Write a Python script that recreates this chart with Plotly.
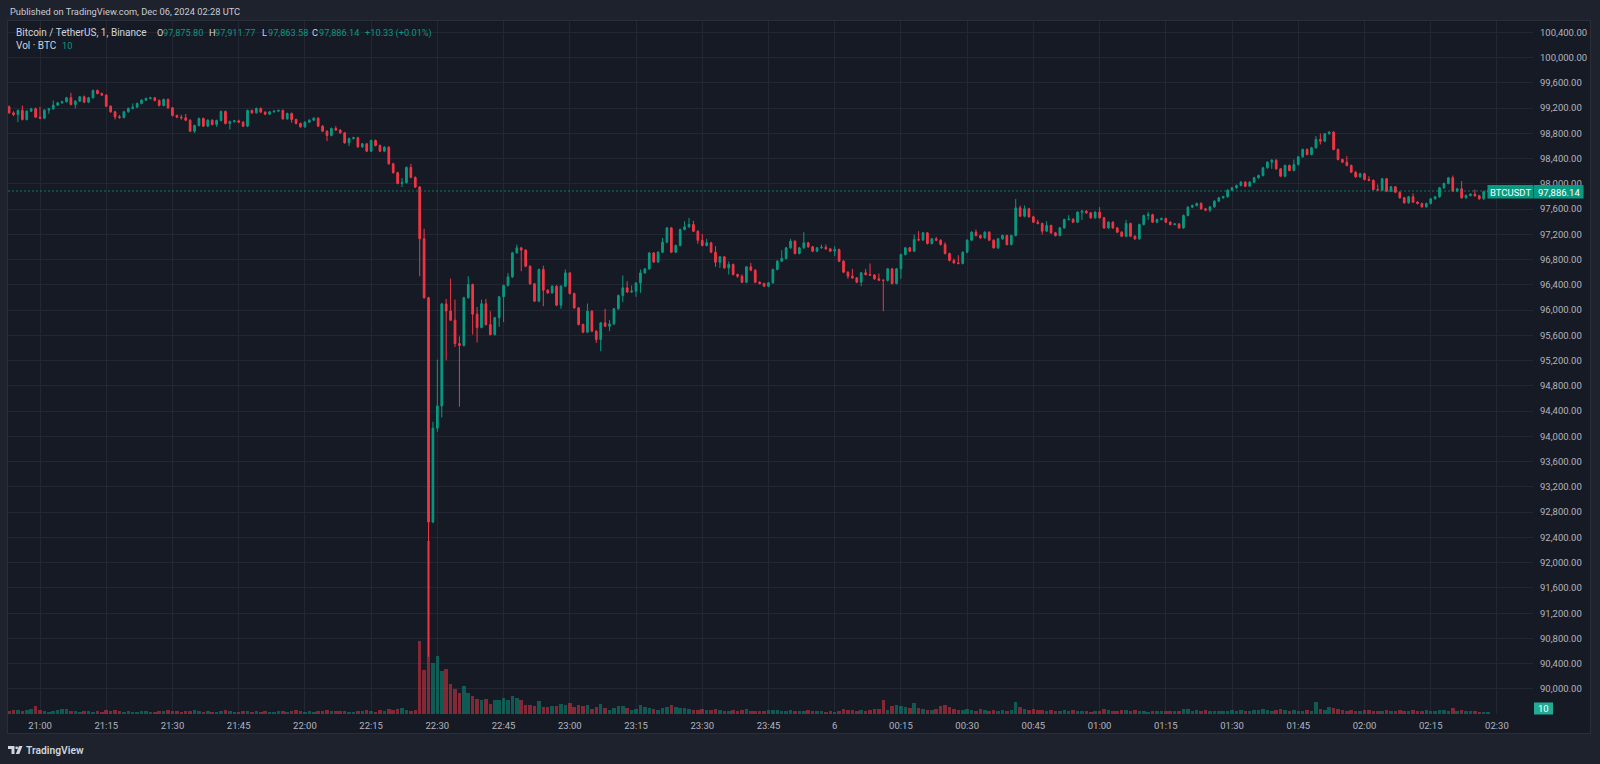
import pandas as pd
import plotly.graph_objects as go

# ---------------- data (BTCUSDT 1m, Binance) ----------------
first_open = 99220.0
closes = [
    99124, 99097, 99161, 99018, 99150, 99188, 99055, 99039, 99166, 99188, 99246, 99282,
    99300, 99362, 99256, 99309, 99378, 99293, 99362, 99478, 99430, 99404, 99229, 99140,
    99060, 99050, 99140, 99193, 99214, 99272, 99325, 99351, 99362, 99320, 99240, 99336,
    99203, 99081, 99055, 99045, 99007, 98833, 98923, 99034, 98913, 99007, 98939, 99002,
    99145, 98955, 98985, 98997, 98976, 98913, 99161, 99124, 99193, 99135, 99103, 99140,
    99150, 99161, 99029, 99113, 99018, 98955, 98902, 98976, 99007, 99039, 98913, 98833,
    98765, 98876, 98850, 98807, 98649, 98717, 98730, 98585, 98633, 98517, 98686, 98607,
    98517, 98580, 98317, 98176, 98006, 98017, 98260, 98102, 97949, 97129, 96196, 92643,
    94130, 94481, 96098, 95985, 95840, 95470, 95440, 96196, 96405, 95935, 95725, 96100,
    95770, 95613, 95880, 96210, 96389, 96526, 96907, 96986, 96950, 96695, 96416, 96141,
    96643, 96315, 96273, 96378, 96077, 96378, 96589, 96262, 96035, 95771, 95650, 95983,
    95666, 95534, 95798, 95745, 95780, 96020, 96231, 96352, 96286, 96300, 96430, 96589,
    96652, 96905, 96763, 96917, 97075, 97302, 96917, 97023, 97276, 97318, 97355, 97249,
    97105, 97023, 97065, 96917, 96759, 96843, 96669, 96722, 96563, 96536, 96442, 96685,
    96632, 96442, 96420, 96379, 96432, 96643, 96775, 96817, 96986, 97091, 96896, 96986,
    97065, 97002, 96933, 96986, 96995, 96970, 96933, 96959, 96775, 96600, 96537, 96510,
    96442, 96590, 96563, 96555, 96495, 96474, 96470, 96653, 96421, 96653, 96880, 96986,
    96933, 97118, 97110, 97223, 97054, 97128, 97107, 97038, 96896, 96785, 96748, 96738,
    96917, 97107, 97234, 97181, 97144, 97234, 97107, 96986, 97128, 97181, 97038, 97181,
    97619, 97487, 97604, 97477, 97392, 97371, 97250, 97339, 97223, 97181, 97302, 97434,
    97440, 97392, 97551, 97567, 97540, 97461, 97551, 97461, 97302, 97392, 97302, 97234,
    97170, 97371, 97170, 97128, 97355, 97498, 97510, 97392, 97434, 97450, 97392, 97355,
    97365, 97302, 97498, 97630, 97656, 97688, 97604, 97583, 97635, 97725, 97778, 97795,
    97899, 97936, 97973, 98026, 97963, 98026, 98095, 98131, 98253, 98343, 98374, 98237,
    98121, 98290, 98211, 98306, 98427, 98544, 98464, 98570, 98702, 98675, 98792, 98818,
    98544, 98385, 98343, 98290, 98184, 98110, 98160, 98068, 98055, 97910, 97900, 98079,
    97883, 97952, 97867, 97778, 97699, 97794, 97710, 97688, 97636, 97688, 97762, 97794,
    97936, 98005, 98095, 97883, 97920, 97778, 97815, 97836, 97810, 97762, 97875.80, 97886.14,
]
upper_wick = [
    20, 25, 15, 79, 15, 15, 20, 164, 15, 15, 74, 15,
    15, 15, 79, 15, 15, 20, 15, 15, 15, 15, 15, 15,
    15, 30, 15, 15, 58, 15, 15, 15, 15, 15, 15, 15,
    15, 15, 15, 40, 60, 15, 15, 15, 15, 15, 15, 15,
    15, 15, 15, 15, 20, 15, 15, 15, 15, 15, 15, 15,
    15, 15, 15, 15, 15, 15, 15, 15, 15, 15, 15, 15,
    15, 15, 40, 15, 15, 15, 15, 15, 15, 15, 15, 15,
    15, 15, 15, 15, 15, 74, 15, 57, 15, 15, 160, 15,
    102, 735, 15, 80, 515, 326, 114, 15, 130, 15, 115, 66,
    78, 212, 15, 15, 15, 63, 15, 52, 15, 15, 15, 15,
    15, 60, 15, 15, 15, 15, 54, 15, 15, 15, 15, 121,
    15, 15, 15, 222, 61, 15, 15, 196, 106, 89, 15, 54,
    15, 15, 15, 15, 67, 15, 15, 15, 15, 89, 105, 60,
    15, 100, 63, 15, 95, 15, 15, 48, 15, 15, 30, 15,
    63, 15, 15, 15, 15, 15, 15, 131, 15, 37, 15, 15,
    169, 15, 15, 15, 43, 43, 15, 53, 15, 15, 15, 116,
    15, 15, 63, 175, 15, 84, 15, 15, 15, 15, 15, 15,
    15, 79, 132, 15, 15, 15, 32, 15, 38, 15, 30, 122,
    15, 15, 15, 42, 15, 15, 15, 15, 15, 15, 15, 15,
    142, 37, 52, 15, 15, 38, 15, 69, 15, 15, 15, 15,
    63, 15, 15, 15, 15, 15, 15, 79, 15, 15, 15, 15,
    15, 58, 15, 15, 15, 15, 46, 15, 15, 15, 15, 15,
    15, 15, 15, 15, 15, 15, 21, 15, 15, 15, 15, 15,
    15, 15, 15, 15, 15, 15, 15, 15, 15, 15, 15, 15,
    15, 15, 15, 79, 15, 15, 15, 15, 53, 95, 15, 15,
    15, 15, 15, 95, 15, 15, 15, 15, 53, 15, 79, 15,
    15, 15, 15, 15, 15, 15, 53, 15, 15, 15, 15, 15,
    15, 15, 15, 36, 15, 122, 15, 15, 74, 15, 15, 25.63,
]
lower_wick = [
    15, 25, 121, 15, 15, 15, 15, 15, 15, 58, 15, 15,
    15, 15, 15, 63, 15, 15, 15, 15, 15, 15, 15, 15,
    42, 20, 15, 15, 15, 15, 15, 15, 15, 15, 15, 15,
    15, 15, 15, 30, 15, 15, 26, 15, 15, 15, 15, 37,
    15, 15, 95, 15, 15, 15, 15, 15, 15, 15, 15, 15,
    15, 15, 15, 15, 52, 15, 15, 15, 15, 15, 15, 15,
    90, 15, 15, 15, 15, 53, 15, 15, 15, 15, 15, 15,
    15, 15, 15, 15, 15, 57, 15, 15, 15, 594, 15, 2131,
    15, 57, 181, 780, 15, 54, 970, 15, 15, 322, 237, 15,
    15, 15, 15, 144, 400, 15, 15, 15, 334, 15, 15, 15,
    15, 253, 15, 15, 15, 57, 15, 15, 15, 15, 15, 15,
    15, 53, 185, 15, 79, 15, 15, 106, 15, 15, 90, 157,
    15, 15, 15, 15, 15, 15, 15, 15, 15, 15, 15, 15,
    55, 15, 15, 15, 74, 90, 15, 106, 15, 26, 15, 15,
    15, 15, 15, 15, 15, 15, 15, 15, 15, 15, 15, 15,
    15, 15, 15, 15, 15, 15, 15, 79, 15, 15, 42, 15,
    15, 63, 15, 15, 15, 15, 487, 20, 15, 15, 158, 15,
    15, 15, 19, 15, 15, 15, 15, 15, 15, 15, 15, 15,
    15, 15, 15, 15, 15, 15, 15, 15, 15, 15, 15, 15,
    15, 15, 15, 15, 15, 15, 53, 15, 15, 15, 15, 15,
    15, 15, 15, 122, 15, 15, 15, 15, 15, 15, 15, 15,
    15, 15, 15, 15, 15, 15, 69, 15, 15, 15, 15, 15,
    15, 15, 15, 15, 15, 15, 15, 15, 32, 15, 15, 15,
    15, 15, 15, 15, 15, 15, 15, 15, 15, 15, 106, 15,
    15, 15, 15, 15, 15, 15, 15, 15, 15, 52, 15, 15,
    15, 15, 15, 15, 15, 15, 15, 15, 15, 15, 15, 15,
    15, 15, 15, 15, 15, 15, 15, 15, 15, 15, 15, 15,
    15, 15, 15, 15, 15, 15, 15, 15, 15, 15, 15, 12.22,
]
volumes = [
    15, 20, 20, 15, 20, 25, 40, 20, 15, 10, 15, 20,
    25, 25, 15, 15, 10, 15, 15, 10, 15, 10, 20, 15,
    20, 15, 10, 15, 10, 10, 15, 15, 10, 10, 15, 15,
    20, 15, 15, 10, 15, 15, 20, 15, 10, 15, 10, 10,
    15, 20, 15, 10, 10, 15, 15, 10, 15, 10, 15, 10,
    10, 15, 15, 10, 15, 20, 15, 10, 15, 10, 15, 15,
    20, 15, 15, 15, 15, 10, 10, 15, 15, 20, 15, 10,
    20, 15, 25, 20, 25, 30, 22, 17, 22, 365, 220, 865,
    255, 290, 215, 225, 150, 125, 105, 140, 105, 90, 75, 70,
    75, 50, 70, 70, 80, 70, 90, 80, 70, 45, 45, 40,
    65, 35, 35, 40, 40, 50, 45, 55, 35, 45, 40, 45,
    25, 35, 50, 30, 20, 30, 40, 40, 30, 20, 25, 45,
    35, 30, 25, 20, 30, 35, 45, 35, 30, 30, 25, 20,
    20, 25, 20, 20, 25, 20, 15, 15, 20, 15, 20, 25,
    15, 15, 15, 15, 20, 20, 20, 15, 15, 20, 15, 15,
    15, 20, 15, 15, 15, 10, 15, 10, 15, 25, 20, 20,
    15, 20, 15, 20, 25, 25, 70, 20, 40, 45, 40, 35,
    30, 55, 30, 25, 20, 20, 25, 40, 45, 35, 25, 20,
    20, 25, 20, 15, 25, 20, 15, 20, 15, 20, 15, 20,
    60, 35, 25, 20, 25, 20, 20, 15, 20, 15, 15, 20,
    15, 20, 15, 15, 15, 10, 15, 15, 25, 20, 15, 15,
    20, 20, 15, 20, 15, 15, 10, 15, 15, 15, 15, 15,
    15, 15, 25, 25, 15, 20, 15, 20, 15, 15, 15, 15,
    15, 20, 15, 20, 15, 15, 20, 20, 25, 20, 15, 20,
    25, 20, 15, 20, 15, 15, 20, 15, 60, 25, 20, 35,
    30, 25, 20, 15, 20, 15, 15, 20, 20, 15, 15, 15,
    20, 15, 15, 20, 15, 15, 20, 15, 15, 20, 15, 15,
    20, 20, 15, 30, 15, 20, 15, 15, 15, 10, 10, 10,
]
price_ticks = list(range(90000, 100401, 400))
time_ticks = ["21:00", "21:15", "21:30", "21:45", "22:00", "22:15", "22:30", "22:45",
              "23:00", "23:15", "23:30", "23:45", "6", "00:15", "00:30", "00:45",
              "01:00", "01:15", "01:30", "01:45", "02:00", "02:15", "02:30"]
last_price = 97886.14
last_volume = 10

n = len(closes)
assert len(upper_wick) == n and len(lower_wick) == n and len(volumes) == n
times = pd.date_range("2024-12-05 20:53", periods=n, freq="1min")
opens = [first_open] + closes[:-1]
highs = [max(o, c) + u for o, c, u in zip(opens, closes, upper_wick)]
lows = [min(o, c) - w for o, c, w in zip(opens, closes, lower_wick)]

UP, DN = "#089981", "#f23645"
vol_colors = ["rgba(8,153,129,0.5)" if c >= o else "rgba(242,54,69,0.5)"
              for o, c in zip(opens, closes)]

W, H = 1600, 764
def px(x): return x / W
def py(y): return 1 - y / H

tick_times = pd.date_range("2024-12-05 21:00", periods=len(time_ticks), freq="15min")

fig = go.Figure()
fig.add_trace(go.Bar(x=times, y=volumes, marker=dict(color=vol_colors, line=dict(width=0)),
                     width=0.8 * 60000, yaxis="y", hoverinfo="skip"))
fig.add_trace(go.Candlestick(
    x=times, open=opens, high=highs, low=lows, close=closes, yaxis="y2",
    increasing=dict(line=dict(color=UP, width=1), fillcolor=UP),
    decreasing=dict(line=dict(color=DN, width=1), fillcolor=DN),
    whiskerwidth=0, hoverinfo="skip"))

FONT = "Roboto, 'Noto Sans', sans-serif"
GRID = "#232733"
ydom = [py(714), py(21)]

fig.update_layout(
    width=W, height=H, margin=dict(l=0, r=0, t=0, b=0, autoexpand=False),
    paper_bgcolor="#1e222d", plot_bgcolor="rgba(0,0,0,0)",
    showlegend=False, hovermode=False, bargap=0, boxgap=0.45,
    font=dict(family=FONT, color="#b2b5be", size=10),
    xaxis=dict(domain=[px(8), px(1533)], type="date",
               range=["2024-12-05 20:52:45", "2024-12-06 02:38:10"],
               tickvals=tick_times, ticktext=time_ticks, showgrid=True, gridcolor=GRID,
               gridwidth=1, zeroline=False, showline=False, ticks="",
               tickfont=dict(size=9.5, color="#b2b5be"), ticklabelstandoff=4,
               rangeslider=dict(visible=False), fixedrange=True),
    yaxis=dict(domain=ydom, range=[0, 3465], visible=False, showgrid=False,
               fixedrange=True),
    yaxis2=dict(overlaying="y", side="right", anchor="x",
                range=[89604, 100578], tickvals=price_ticks,
                ticktext=[f"{v:,.2f}" for v in price_ticks],
                showgrid=True, gridcolor=GRID, gridwidth=1, zeroline=False,
                showline=False, ticks="", tickfont=dict(size=9.5, color="#b2b5be"),
                ticklabelstandoff=6, fixedrange=True),
)

shapes = [
    dict(type="rect", xref="paper", yref="paper", x0=px(7.5), x1=px(1590.5),
         y0=py(733.5), y1=py(20.5), fillcolor="#161a25",
         line=dict(color="#2a2e39", width=1), layer="below"),
    dict(type="line", xref="paper", yref="y2", x0=px(8), x1=px(1533),
         y0=last_price, y1=last_price,
         line=dict(color="rgba(8,153,129,0.75)", width=1, dash="2px,2px")),
    dict(type="rect", xref="paper", yref="paper", x0=px(1487.5), x1=px(1533),
         y0=py(198.5), y1=py(185), fillcolor=UP, line=dict(width=0)),
    dict(type="rect", xref="paper", yref="paper", x0=px(1533.5), x1=px(1583.5),
         y0=py(198.5), y1=py(185), fillcolor=UP, line=dict(width=0)),
    dict(type="rect", xref="paper", yref="paper", x0=px(1534), x1=px(1553),
         y0=py(714.5), y1=py(702.5), fillcolor="#22ab94", line=dict(width=0)),
    # TradingView logo
    dict(type="path", xref="paper", yref="paper",
         path=f"M{px(8)},{py(746)} L{px(14.5)},{py(746)} L{px(14.5)},{py(754)} "
              f"L{px(11.5)},{py(754)} L{px(11.5)},{py(749)} L{px(8)},{py(749)} Z",
         fillcolor="#d1d4dc", line=dict(width=0)),
    dict(type="circle", xref="paper", yref="paper", x0=px(15.3), x1=px(18.1),
         y0=py(749.2), y1=py(746.4), fillcolor="#d1d4dc", line=dict(width=0)),
    dict(type="path", xref="paper", yref="paper",
         path=f"M{px(19)},{py(746)} L{px(22.5)},{py(746)} L{px(19.3)},{py(754)} "
              f"L{px(15.8)},{py(754)} Z",
         fillcolor="#d1d4dc", line=dict(width=0)),
]
fig.update_layout(shapes=shapes)

def ann(text, x, y, color="#d1d4dc", size=10, xanchor="left", weight=None):
    f = dict(family=FONT, size=size, color=color)
    if weight:
        f["weight"] = weight
    return dict(text=text, x=px(x), y=py(y), xref="paper", yref="paper",
                xanchor=xanchor, yanchor="middle", showarrow=False, font=f)

GREEN_TXT = "#089981"
VS = 9.2
annotations = [
    ann("Published on TradingView.com, Dec 06, 2024 02:28 UTC", 8, 12, "#c9ccd3", 9.3),
    ann("Bitcoin / TetherUS, 1, Binance", 14, 33, "#d1d4dc", 10),
    ann("O", 155, 33, size=VS), ann("97,875.80", 161, 33, GREEN_TXT, VS),
    ann("H", 207, 33, size=VS), ann("97,911.77", 213, 33, GREEN_TXT, VS),
    ann("L", 260, 33, size=VS), ann("97,863.58", 266, 33, GREEN_TXT, VS),
    ann("C", 310, 33, size=VS), ann("97,886.14", 317, 33, GREEN_TXT, VS),
    ann("+10.33 (+0.01%)", 363, 33, GREEN_TXT, VS),
    ann("Vol · BTC", 14, 46, "#d1d4dc", 10),
    ann(str(last_volume), 60, 46, GREEN_TXT, VS),
    ann("BTCUSDT", 1510.5, 192, "#ffffff", 9.5, "center"),
    ann(f"{last_price:,.2f}", 1558.5, 192, "#ffffff", 9.5, "center"),
    ann(str(last_volume), 1543.5, 708.5, "#ffffff", 9.5, "center"),
    ann("TradingView", 24, 750, "#d1d4dc", 10.3, weight=600),
]
fig.update_layout(annotations=annotations)

fig.write_html("out.html", config={"displayModeBar": False, "staticPlot": True})
